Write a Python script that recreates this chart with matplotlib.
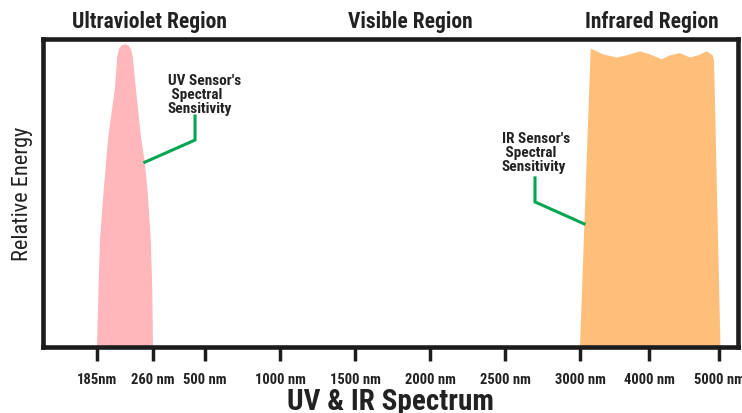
import numpy as np
import matplotlib
matplotlib.use('Agg')
from matplotlib import pyplot as plt

# narrow face like the original artwork, with fallbacks
plt.rcParams['font.family'] = ['Roboto Condensed', 'Archivo Narrow', 'Barlow Condensed',
                               'Roboto', 'DejaVu Sans']

# axis ticks (wavelength) and where they sit along the axis
tick_nm = [185, 260, 500, 1000, 1500, 2000, 2500, 3000, 4000, 5000]
tick_labels = ['185nm', '260 nm', '500 nm', '1000 nm', '1500 nm', '2000 nm',
               '2500 nm', '3000 nm', '4000 nm', '5000 nm']
tick_pos = [97, 153, 205, 280, 355, 430, 505, 580, 649, 719]

# UV sensor sensitivity outline (nm, relative energy)
uv_nm = [185, 187, 189, 194, 200, 209, 212, 214.5, 217.8, 222.5, 227.2, 230.5,
         233, 237, 244, 249, 253, 257, 259, 260]
uv_energy = [0.0, 0.19, 0.35, 0.51, 0.68, 0.84, 0.94, 0.968, 0.979, 0.983, 0.979,
             0.968, 0.94, 0.84, 0.68, 0.60, 0.50, 0.35, 0.19, 0.0]

# IR sensor sensitivity outline (nm, relative energy)
ir_nm = [3000, 3155, 3338, 3532, 3677, 3870, 4014, 4181, 4300, 4443, 4586,
         4704, 4824, 4910, 4929, 5021]
ir_energy = [0.0, 0.969, 0.950, 0.940, 0.947, 0.960, 0.950, 0.934, 0.947,
             0.954, 0.940, 0.947, 0.960, 0.947, 0.931, 0.0]

# leader lines for the callouts
uv_lead_nm = [454, 454, 249]
uv_lead_e = [0.75, 0.672, 0.60]
ir_lead_nm = [2700, 2700, 3058]
ir_lead_e = [0.549, 0.471, 0.40]

# piecewise axis: extend anchors past both ends with end-segment slopes
anchor_nm = [100] + tick_nm + [5400]
anchor_pos = [97 - 85 * 56 / 75] + tick_pos + [719 + 400 * 70 / 1000]


def fwd(x):
    return np.interp(x, anchor_nm, anchor_pos)


def inv(p):
    return np.interp(p, anchor_pos, anchor_nm)


dark = '#1c1c1c'
txt = '#222222'
fig = plt.figure(figsize=(7.42, 4.14), dpi=100)
ax = fig.add_axes([43 / 742, 1 - 348 / 414, (738 - 43) / 742, (348 - 40) / 414])
ax.set_xscale('function', functions=(fwd, inv))
ax.set_xlim(inv(43), inv(738))
ax.set_ylim(0, 1)

ax.fill(uv_nm, uv_energy, color='#FFB7BB', lw=0)
ax.fill(ir_nm, ir_energy, color='#FEBF7B', lw=0)

ax.plot(uv_lead_nm, uv_lead_e, color='#00A651', lw=2.2, solid_joinstyle='miter')
ax.plot(ir_lead_nm, ir_lead_e, color='#00A651', lw=2.2, solid_joinstyle='miter')

ax.text(329, 0.822, "UV Sensor's\n Spectral\nSensitivity", fontsize=11,
        fontweight='bold', color=txt, va='center', ha='left', linespacing=1.0)
ax.text(2480, 0.632, "IR Sensor's\n Spectral\nSensitivity", fontsize=11,
        fontweight='bold', color=txt, va='center', ha='left', linespacing=1.0)

for s in ax.spines.values():
    s.set_linewidth(3.3)
    s.set_color(dark)

ax.set_xticks(tick_nm)
ax.set_xticklabels(tick_labels, fontsize=10.5, fontweight='bold', color=txt)
ax.xaxis.set_minor_locator(matplotlib.ticker.NullLocator())
ax.tick_params(axis='x', length=10, width=2.5, color=dark, pad=8)
ax.set_yticks([])

ax.set_ylabel('Relative Energy', fontsize=16, color=txt, labelpad=7)

fig.text(149 / 742, 1 - 22 / 414, 'Ultraviolet Region', ha='center', va='center',
         fontsize=15.5, fontweight='bold', color=txt)
fig.text(410 / 742, 1 - 22 / 414, 'Visible Region', ha='center', va='center',
         fontsize=15.5, fontweight='bold', color=txt)
fig.text(652 / 742, 1 - 22 / 414, 'Infrared Region', ha='center', va='center',
         fontsize=15.5, fontweight='bold', color=txt)
fig.text(390 / 742, 4 / 414, 'UV & IR Spectrum', ha='center', va='baseline',
         fontsize=21, fontweight='bold', color=txt)

fig.savefig('out.png', dpi=100)
